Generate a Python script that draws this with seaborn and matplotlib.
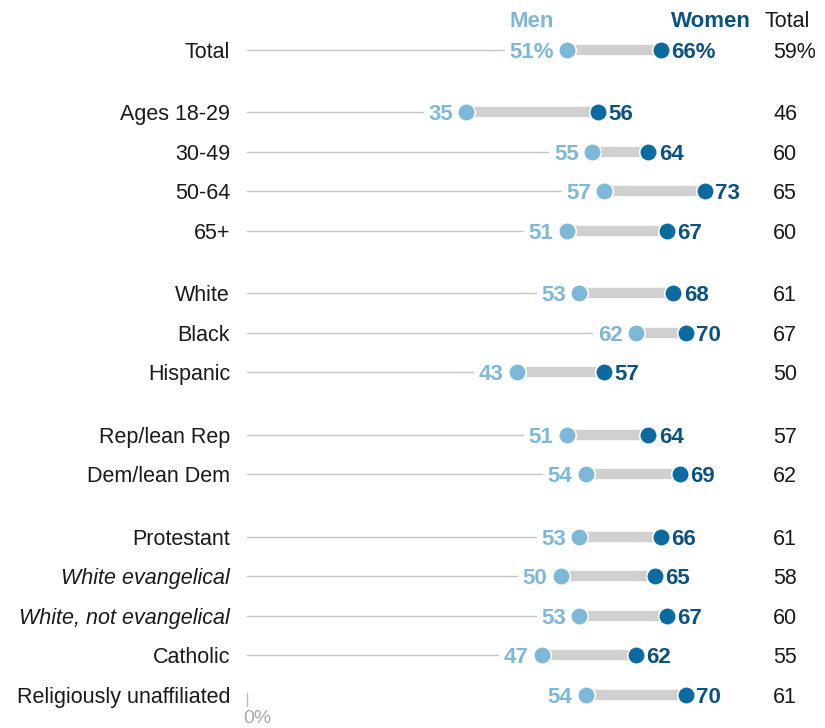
import numpy as np
import pandas as pd
import seaborn as sns
import matplotlib.pyplot as plt
from matplotlib.transforms import blended_transform_factory

# Data
labels = ['Total', 'Ages 18-29', '30-49', '50-64', '65+',
          'White', 'Black', 'Hispanic',
          'Rep/lean Rep', 'Dem/lean Dem',
          'Protestant', 'White evangelical', 'White, not evangelical',
          'Catholic', 'Religiously unaffiliated']
groups = [0, 1, 1, 1, 1, 2, 2, 2, 3, 3, 4, 4, 4, 4, 4]
men = [51, 35, 55, 57, 51, 53, 62, 43, 51, 54, 53, 50, 53, 47, 54]
women = [66, 56, 64, 73, 67, 68, 70, 57, 64, 69, 66, 65, 67, 62, 70]
total = [59, 46, 60, 65, 60, 61, 67, 50, 57, 62, 61, 58, 60, 55, 61]
italic_rows = ['White evangelical', 'White, not evangelical']

men_c = '#7db8d9'
women_c = '#0b6aa0'
women_txt = '#0b5280'
bar_c = '#d0d0d0'
thin_c = '#c4c4c4'

df = pd.DataFrame({'label': labels, 'group': groups, 'men': men,
                   'women': women, 'total': total})
df['pos'] = np.arange(len(df)) + 0.58 * df['group']

sns.set_theme(style='white')
plt.rcParams['font.family'] = ['Liberation Sans', 'DejaVu Sans']

fig = plt.figure(figsize=(8.25, 7.28), dpi=100)
ax = fig.add_axes([247 / 825, 0, 1 - 247 / 825, 1])
xmax = (825 - 247) / 6.27
ax.set_xlim(0, xmax)
ax.set_ylim((728 - 50) / 39.5, -50 / 39.5)

# thin guide lines and grey connector
for _, r in df.iterrows():
    if r['label'] != 'Religiously unaffiliated':
        ax.plot([0, r['men']], [r['pos'], r['pos']], color=thin_c, lw=1, zorder=1)
    ax.plot([r['men'], r['women']], [r['pos'], r['pos']], color=bar_c, lw=7.5,
            solid_capstyle='butt', zorder=2)

sns.scatterplot(data=df, x='men', y='pos', ax=ax, color=men_c, s=160,
                edgecolor='white', linewidth=1.2, zorder=3)
sns.scatterplot(data=df, x='women', y='pos', ax=ax, color=women_c, s=160,
                edgecolor='white', linewidth=1.2, zorder=3)

fs = 15.5
nfs = 16
tot_x = (773 - 247) / 6.27
for i, r in df.iterrows():
    suf = '%' if i == 0 else ''
    ax.annotate(f"{r['men']}{suf}", (r['men'], r['pos']), xytext=(-9.5, 0),
                textcoords='offset points', ha='right', va='center_baseline',
                color=men_c, fontsize=nfs, fontweight='bold', zorder=4,
                bbox=dict(boxstyle='square,pad=0.2', fc='white', ec='none'))
    ax.annotate(f"{r['women']}{suf}", (r['women'], r['pos']), xytext=(7.5, 0),
                textcoords='offset points', ha='left', va='center_baseline',
                color=women_txt, fontsize=nfs, fontweight='bold', zorder=4)
    ax.text(tot_x, r['pos'], f"{r['total']}{suf}", ha='left', va='center_baseline',
            fontsize=fs, color='#1a1a1a')

# headers
hy = -50 / 39.5 + 19 / 39.5
ax.annotate('Men', (men[0], hy), xytext=(-9.5, 0), textcoords='offset points',
            ha='right', va='center_baseline', color=men_c, fontsize=nfs,
            fontweight='bold')
ax.annotate('Women', (women[0], hy), xytext=(7.5, 0), textcoords='offset points',
            ha='left', va='center_baseline', color=women_txt, fontsize=nfs,
            fontweight='bold')
ax.text(tot_x - 1.3, hy, 'Total', ha='left', va='center_baseline', fontsize=fs,
        color='#1a1a1a')

# category labels
trans = blended_transform_factory(fig.transFigure, ax.transData)
for _, r in df.iterrows():
    style = 'italic' if r['label'] in italic_rows else 'normal'
    ax.text(230 / 825, r['pos'], r['label'], transform=trans, ha='right',
            va='center_baseline', fontsize=fs, style=style, color='#1a1a1a')

# zero baseline tick
last = df['pos'].iloc[-1]
ax.plot([0, 0], [last - 0.05, last + 0.28], color='#bbbbbb', lw=1, clip_on=False)
ax.text(-0.6, last + 0.55, '0%', ha='left', va='center_baseline', fontsize=14,
        color='#aaaaaa')

ax.axis('off')
fig.savefig('out.png', dpi=100)
